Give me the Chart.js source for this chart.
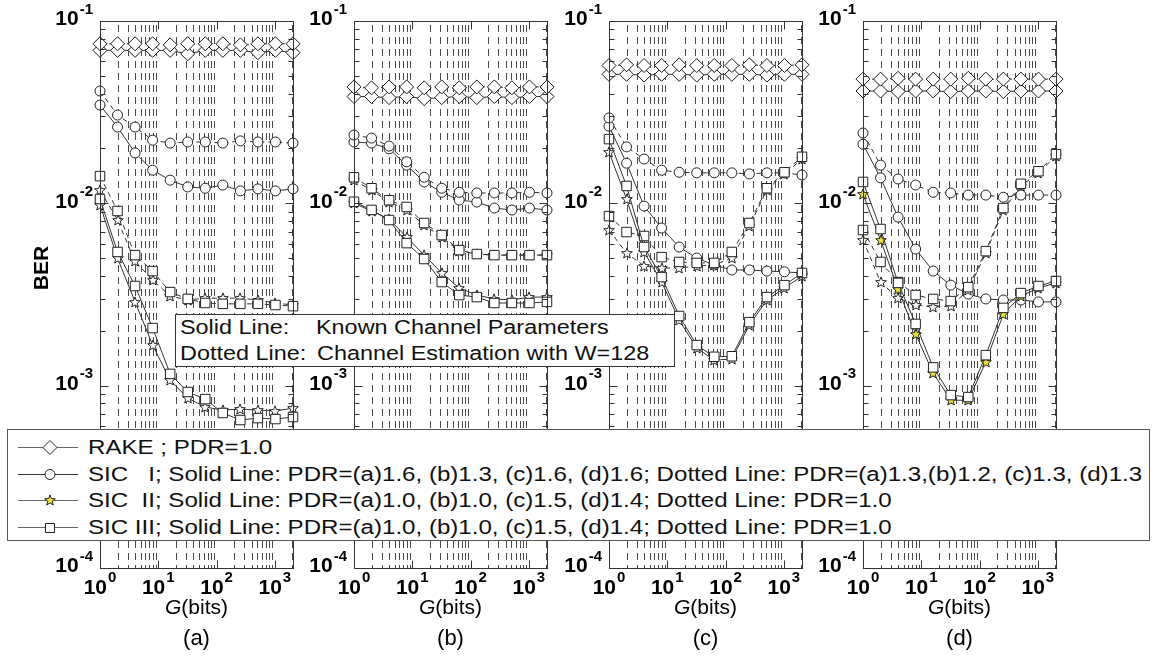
<!DOCTYPE html>
<html>
<head>
<meta charset="utf-8">
<title>BER versus G</title>
<script src="https://cdn.jsdelivr.net/npm/chart.js@4/dist/chart.umd.min.js"></script>
<style>
  html, body { margin: 0; padding: 0; background: #fff; }
  #page { position: relative; width: 1157px; height: 662px; overflow: hidden; background: #fff;
          font-family: "Liberation Sans", Arial, sans-serif; color: #111; }
  canvas.panel { position: absolute; left: 0; top: 0; }
  #note { position: absolute; left: 175px; top: 314px; width: 498px; height: 51px;
          border: 1px solid #333; background: #fff; font-size: 20px; }
  #note span { position: absolute; line-height: 24px; white-space: pre;
               transform: scaleX(1.17); transform-origin: 0 50%; }
  #legend { position: absolute; left: 7px; top: 429px; width: 1141px; height: 110px;
            border: 1px solid #555; background: #fff; font-size: 20px; }
  #legend .row { position: absolute; left: 0; height: 26px; width: 100%; }
  #legend .row canvas { position: absolute; left: 7px; top: 3px; }
  #legend .row span { position: absolute; left: 80px; top: 0; line-height: 26px; white-space: pre;
                      transform: scaleX(1.205); transform-origin: 0 50%; }
</style>
</head>
<body>
<div id="page">
  <canvas class="panel" id="pa" width="1157" height="662"></canvas>
  <canvas class="panel" id="pb" width="1157" height="662"></canvas>
  <canvas class="panel" id="pc" width="1157" height="662"></canvas>
  <canvas class="panel" id="pd" width="1157" height="662"></canvas>
  <div id="note">
    <span style="left:4px; top:0px;">Solid Line:</span><span style="left:140px; top:0px;">Known Channel Parameters</span>
    <span style="left:4px; top:26px;">Dotted Line:</span><span style="left:141px; top:26px;">Channel Estimation with W=128</span>
  </div>
  <div id="legend"></div>
</div>
<script>
// Message-group length G (bits) on the x axis
const G_BITS = [1, 2, 4, 8, 16, 32, 64, 128, 256, 512, 1024, 2048];
const X_DECADES = [0, 1, 2, 3];
const Y_DECADES = [-1, -2, -3, -4];
const PANEL_TAGS = ['(a)', '(b)', '(c)', '(d)'];

// ---- panel (a) ----
const rakeSolidA  = [0.069, 0.069, 0.069, 0.069, 0.069, 0.066, 0.069, 0.069, 0.069, 0.067, 0.069, 0.067];
const rakeDottedA = [0.075, 0.075, 0.075, 0.075, 0.074, 0.075, 0.075, 0.075, 0.074, 0.075, 0.075, 0.075];
const sic1SolidA  = [0.0346, 0.0262, 0.0189, 0.0152, 0.0134, 0.0123, 0.0121, 0.0126, 0.0117, 0.0120, 0.0117, 0.0120];
const sic1DottedA = [0.0413, 0.0305, 0.0262, 0.0222, 0.0214, 0.0217, 0.0217, 0.0214, 0.0220, 0.0217, 0.0217, 0.0214];
const sic2SolidA  = [0.0098, 0.0050, 0.00288, 0.00167, 0.00107, 0.000855, 0.000763, 0.000735, 0.000744, 0.000735, 0.000726, 0.000753];
const sic2DottedA = [0.0118, 0.0081, 0.0048, 0.0038, 0.0031, 0.00295, 0.00302, 0.00302, 0.00302, 0.00295, 0.00284, 0.00277];
const sic3SolidA  = [0.01056, 0.00541, 0.00352, 0.00207, 0.00116, 0.000923, 0.000844, 0.000708, 0.000648, 0.000664, 0.000656, 0.000673];
const sic3DottedA = [0.0141, 0.00908, 0.0052, 0.00425, 0.00326, 0.00299, 0.00284, 0.00281, 0.00281, 0.00281, 0.00277, 0.00273];

// ---- panel (b) ----
const rakeSolidB  = [0.0385, 0.0385, 0.038, 0.0385, 0.0375, 0.038, 0.0385, 0.038, 0.0385, 0.038, 0.0385, 0.0385];
const rakeDottedB = [0.0435, 0.043, 0.0435, 0.0435, 0.043, 0.0435, 0.043, 0.0435, 0.0435, 0.043, 0.0435, 0.0435];
const sic1SolidB  = [0.0217, 0.0214, 0.0199, 0.0162, 0.0131, 0.0115, 0.01042, 0.01016, 0.00942, 0.00919, 0.00942, 0.00919];
const sic1DottedB = [0.0237, 0.0228, 0.0206, 0.0169, 0.0139, 0.0121, 0.0115, 0.0114, 0.0114, 0.0114, 0.0115, 0.0114];
const sic2SolidB  = [0.0100, 0.00908, 0.0082, 0.00653, 0.0052, 0.00415, 0.00343, 0.00314, 0.00299, 0.00295, 0.00306, 0.00306];
const sic2DottedB = [0.0134, 0.0118, 0.0102, 0.0092, 0.0076, 0.00653, 0.00547, 0.00527, 0.0052, 0.0052, 0.0052, 0.0052];
const sic3SolidB  = [0.0102, 0.0092, 0.0081, 0.00605, 0.00495, 0.0037, 0.00314, 0.00306, 0.00284, 0.00284, 0.00284, 0.00288];
const sic3DottedB = [0.0139, 0.0121, 0.0104, 0.00955, 0.0078, 0.0067, 0.00554, 0.00527, 0.0052, 0.0052, 0.0052, 0.0052];

// ---- panel (c) ----
const rakeSolidC  = [0.051, 0.051, 0.0505, 0.051, 0.051, 0.0505, 0.051, 0.051, 0.051, 0.0505, 0.051, 0.051];
const rakeDottedC = [0.057, 0.0575, 0.057, 0.057, 0.0575, 0.057, 0.057, 0.057, 0.0575, 0.057, 0.057, 0.0575];
const sic1SolidC  = [0.0265, 0.0166, 0.00966, 0.00732, 0.00576, 0.00501, 0.00459, 0.00431, 0.00431, 0.00425, 0.00421, 0.00415];
const sic1DottedC = [0.0294, 0.0204, 0.0175, 0.0152, 0.0148, 0.0147, 0.0147, 0.0147, 0.0145, 0.0147, 0.0147, 0.0143];
const sic2SolidC  = [0.0191, 0.01056, 0.00541, 0.0037, 0.00229, 0.00161, 0.00138, 0.0014, 0.00215, 0.00295, 0.00343, 0.00399];
const sic2DottedC = [0.00714, 0.00533, 0.00453, 0.00442, 0.00442, 0.00453, 0.00459, 0.00501, 0.0075, 0.01183, 0.0145, 0.0175];
const sic3SolidC  = [0.0225, 0.01245, 0.00576, 0.00394, 0.00241, 0.00167, 0.00144, 0.00145, 0.00223, 0.00306, 0.00356, 0.00415];
const sic3DottedC = [0.00851, 0.00696, 0.00662, 0.00507, 0.00477, 0.00471, 0.00471, 0.00541, 0.0078, 0.0121, 0.0148, 0.018];

// ---- panel (d) ----
const rakeSolidD  = [0.0413, 0.0413, 0.041, 0.0413, 0.0413, 0.041, 0.0413, 0.0413, 0.041, 0.0413, 0.0413, 0.0413];
const rakeDottedD = [0.048, 0.048, 0.0485, 0.048, 0.048, 0.048, 0.0485, 0.048, 0.048, 0.048, 0.048, 0.048];
const sic1SolidD  = [0.0211, 0.0138, 0.0084, 0.00561, 0.00425, 0.00356, 0.00318, 0.00299, 0.00295, 0.00295, 0.00288, 0.00288];
const sic1DottedD = [0.0243, 0.0162, 0.0136, 0.0126, 0.0115, 0.0114, 0.0111, 0.0111, 0.0108, 0.0111, 0.0111, 0.0111];
const sic2SolidD  = [0.0112, 0.0063, 0.00339, 0.00192, 0.00117, 0.000834, 0.00083, 0.00135, 0.00247, 0.0031, 0.00343, 0.00366];
const sic2DottedD = [0.0063, 0.0037, 0.00302, 0.00277, 0.0027, 0.00273, 0.00334, 0.00533, 0.00919, 0.01245, 0.0147, 0.0182];
const sic3SolidD  = [0.0131, 0.00723, 0.00366, 0.00218, 0.00126, 0.000888, 0.000866, 0.00147, 0.00267, 0.00322, 0.00352, 0.00375];
const sic3DottedD = [0.00714, 0.00477, 0.0037, 0.00314, 0.00299, 0.00291, 0.00347, 0.00547, 0.00942, 0.0128, 0.015, 0.0186];

const LEGEND_TEXT = [
  'RAKE ; PDR=1.0',
  'SIC   I; Solid Line: PDR=(a)1.6, (b)1.3, (c)1.6, (d)1.6; Dotted Line: PDR=(a)1.3,(b)1.2, (c)1.3, (d)1.3',
  'SIC  II; Solid Line: PDR=(a)1.0, (b)1.0, (c)1.5, (d)1.4; Dotted Line: PDR=1.0',
  'SIC III; Solid Line: PDR=(a)1.0, (b)1.0, (c)1.5, (d)1.4; Dotted Line: PDR=1.0'
];

// ---- layout ----
const W = 1157, H = 662;
const PLOT_LEFT = [100, 354, 609, 863];
const PLOT_W = 193;
const PLOT_TOP = 21, PLOT_BOTTOM = 568;
const FONT = '"Liberation Sans", Arial, sans-serif';
const LINE_COLOR = '#333';
const MARK_EDGE = '#222';
const STAR_YELLOW = '#ece23a';

// five-point star glyph used as an image point style
function makeStar(fill) {
  const c = document.createElement('canvas');
  const S = 14;
  c.width = S; c.height = S;
  const g = c.getContext('2d');
  g.translate(S / 2, S / 2 + 0.5);
  g.lineWidth = 1;
  g.strokeStyle = MARK_EDGE;
  g.fillStyle = fill;
  g.beginPath();
  for (let i = 0; i < 10; i++) {
    const r = i % 2 ? 2.4 : 5.6;
    const a = -Math.PI / 2 + i * Math.PI / 5;
    g.lineTo(r * Math.cos(a), r * Math.sin(a));
  }
  g.closePath();
  g.fill();
  g.stroke();
  return c;
}
const STAR_WHITE = makeStar('#fff');
const STAR_FILLED = makeStar(STAR_YELLOW);

// marker shape -> Chart.js point settings
const MARKERS = {
  diamond: { pointStyle: 'rectRot', pointRadius: 7, edge: '#1a1a1a', width: 1 },
  circle:  { pointStyle: 'circle',  pointRadius: 5, edge: MARK_EDGE, width: 1 },
  square:  { pointStyle: 'rect',    pointRadius: 6.7, edge: MARK_EDGE, width: 1 },
  star:    { pointStyle: STAR_WHITE, pointRadius: 5, edge: MARK_EDGE, width: 1 },
  starY:   { pointStyle: STAR_FILLED, pointRadius: 5, edge: MARK_EDGE, width: 1 }
};

function series(values, dashed, marker, order) {
  const m = MARKERS[marker];
  return {
    data: G_BITS.map((g, i) => ({ x: g, y: values[i] })),
    showLine: true,
    borderColor: LINE_COLOR,
    borderWidth: 1,
    borderDash: dashed ? [5, 4] : [],
    pointStyle: m.pointStyle,
    pointRadius: m.pointRadius,
    pointHoverRadius: m.pointRadius,
    pointBackgroundColor: '#fff',
    pointBorderColor: m.edge,
    pointBorderWidth: m.width,
    tension: 0,
    fill: false,
    clip: false,
    order: order
  };
}

function drawPow(ctx, exp, cx, cy, align, baseSize, expSize, weight) {
  const base = '10', e = String(exp);
  const bf = weight + ' ' + baseSize + 'px ' + FONT;
  const ef = weight + ' ' + expSize + 'px ' + FONT;
  ctx.font = bf;
  const bw = ctx.measureText(base).width;
  ctx.font = ef;
  const ew = ctx.measureText(e).width;
  const total = bw + 1 + ew;
  const x0 = align === 'right' ? cx - total : cx - total / 2;
  ctx.textAlign = 'left';
  ctx.textBaseline = 'middle';
  ctx.font = bf;
  ctx.fillText(base, x0, cy);
  ctx.font = ef;
  ctx.fillText(e, x0 + bw + 1, cy - 10);
}

// frame, log ticks, dashed minor grid and axis texts for one panel
const logFrame = {
  id: 'logFrame',
  beforeDatasetsDraw(chart) {
    const { ctx, chartArea: a, scales: { x } } = chart;
    ctx.save();
    ctx.strokeStyle = '#4a4a4a';
    ctx.lineWidth = 1;
    ctx.setLineDash([7, 5]);
    for (const k of X_DECADES) {
      for (let m = 2; m <= 9; m++) {
        const v = m * Math.pow(10, k);
        if (v > x.max) continue;
        const px = Math.round(x.getPixelForValue(v)) + 0.5;
        ctx.beginPath();
        ctx.moveTo(px, a.top + 4);
        ctx.lineTo(px, a.bottom);
        ctx.stroke();
      }
    }
    ctx.restore();
    ctx.imageSmoothingEnabled = false;
  },
  afterDatasetsDraw(chart) {
    const { ctx, chartArea: a, scales: { x, y } } = chart;
    ctx.imageSmoothingEnabled = true;
    const L = Math.round(a.left) + 0.5, R = Math.round(a.right) + 0.5;
    const T = Math.round(a.top) + 0.5, B = Math.round(a.bottom) + 0.5;
    ctx.save();
    ctx.strokeStyle = '#333';
    ctx.lineWidth = 1;
    ctx.strokeRect(L, T, R - L, B - T);
    ctx.beginPath();
    for (let k = -4; k <= -2; k++) {
      for (let m = 1; m <= 9; m++) {
        if (m === 1 && k === -4) continue;
        const py = Math.round(y.getPixelForValue(m * Math.pow(10, k))) + 0.5;
        const len = m === 1 ? 8 : 5;
        ctx.moveTo(L, py); ctx.lineTo(L + len, py);
        ctx.moveTo(R, py); ctx.lineTo(R - len, py);
      }
    }
    for (const k of X_DECADES.slice(1)) {
      const px = Math.round(x.getPixelForValue(Math.pow(10, k))) + 0.5;
      ctx.moveTo(px, B); ctx.lineTo(px, B - 8);
      ctx.moveTo(px, T); ctx.lineTo(px, T + 8);
    }
    ctx.stroke();
    ctx.restore();
  },
  afterDraw(chart, args, opts) {
    const { ctx, chartArea: a, scales: { x, y } } = chart;
    ctx.save();
    ctx.fillStyle = '#000';
    for (const k of Y_DECADES) {
      const py = y.getPixelForValue(Math.pow(10, k));
      drawPow(ctx, k, a.left - 7, py - 1.5, 'right', 21, 15, 'bold');
    }
    for (const k of X_DECADES) {
      const px = x.getPixelForValue(Math.pow(10, k));
      drawPow(ctx, k, px, 588, 'center', 21, 15, 'bold');
    }
    const cx = (a.left + a.right) / 2;
    ctx.textBaseline = 'middle';
    ctx.font = 'italic 21px ' + FONT;
    const gw = ctx.measureText('G').width;
    ctx.font = '21px ' + FONT;
    const bw = ctx.measureText('(bits)').width;
    const gx = cx - (gw + bw) / 2;
    ctx.textAlign = 'left';
    ctx.font = 'italic 21px ' + FONT;
    ctx.fillText('G', gx, 608);
    ctx.font = '21px ' + FONT;
    ctx.fillText('(bits)', gx + gw, 608);
    ctx.textAlign = 'center';
    ctx.font = '22px ' + FONT;
    ctx.fillText(opts.tag, cx, 639);
    if (opts.yTitle) {
      ctx.translate(42, 268);
      ctx.rotate(-Math.PI / 2);
      ctx.font = 'bold 21px ' + FONT;
      ctx.fillText(opts.yTitle, 0, 0);
    }
    ctx.restore();
  }
};

const PANELS = [
  { id: 'pa', rake: [rakeSolidA, rakeDottedA], sic1: [sic1SolidA, sic1DottedA], sic2: [sic2SolidA, sic2DottedA], sic3: [sic3SolidA, sic3DottedA], star: 'star' },
  { id: 'pb', rake: [rakeSolidB, rakeDottedB], sic1: [sic1SolidB, sic1DottedB], sic2: [sic2SolidB, sic2DottedB], sic3: [sic3SolidB, sic3DottedB], star: 'star' },
  { id: 'pc', rake: [rakeSolidC, rakeDottedC], sic1: [sic1SolidC, sic1DottedC], sic2: [sic2SolidC, sic2DottedC], sic3: [sic3SolidC, sic3DottedC], star: 'star' },
  { id: 'pd', rake: [rakeSolidD, rakeDottedD], sic1: [sic1SolidD, sic1DottedD], sic2: [sic2SolidD, sic2DottedD], sic3: [sic3SolidD, sic3DottedD], star: 'starY' }
];

PANELS.forEach((p, i) => {
  const left = PLOT_LEFT[i];
  const datasets = [
    series(p.rake[0], false, 'diamond', 8),
    series(p.rake[1], true, 'diamond', 7),
    series(p.sic1[0], false, 'circle', 6),
    series(p.sic1[1], true, 'circle', 5),
    series(p.sic2[1], true, 'star', 4),
    series(p.sic2[0], false, p.star, 3),
    series(p.sic3[1], true, 'square', 2),
    series(p.sic3[0], false, 'square', 1)
  ];
  new Chart(document.getElementById(p.id), {
    type: 'scatter',
    data: { datasets },
    options: {
      responsive: false,
      animation: false,
      events: [],
      layout: { padding: { left: left, right: W - left - PLOT_W, top: PLOT_TOP, bottom: H - PLOT_BOTTOM } },
      plugins: {
        legend: { display: false },
        tooltip: { enabled: false },
        logFrame: { tag: PANEL_TAGS[i], yTitle: i === 0 ? 'BER' : '' }
      },
      scales: {
        x: { type: 'logarithmic', min: 1, max: 2048, display: false },
        y: { type: 'logarithmic', min: 1e-4, max: 1e-1, display: false }
      }
    },
    plugins: [logFrame]
  });
});

// legend rows: line sample with its marker, then the text
const legend = document.getElementById('legend');
const ROW_CENTERS = [17, 43.7, 70.3, 97];
function drawSampleMarker(g, kind, cx, cy) {
  g.lineWidth = 1;
  g.strokeStyle = MARK_EDGE;
  g.fillStyle = '#fff';
  g.beginPath();
  if (kind === 0) {
    g.moveTo(cx, cy - 7); g.lineTo(cx + 7, cy); g.lineTo(cx, cy + 7); g.lineTo(cx - 7, cy); g.closePath();
    g.fill(); g.stroke();
  } else if (kind === 1) {
    g.arc(cx, cy, 5, 0, Math.PI * 2);
    g.fill(); g.stroke();
  } else if (kind === 2) {
    g.drawImage(STAR_FILLED, Math.round(cx - 7), Math.round(cy - 7.5));
  } else {
    g.rect(Math.round(cx) - 4.5, Math.round(cy) - 4.5, 9, 9);
    g.fill(); g.stroke();
  }
}
LEGEND_TEXT.forEach((txt, i) => {
  const row = document.createElement('div');
  row.className = 'row';
  row.style.top = (ROW_CENTERS[i] - 13) + 'px';
  const c = document.createElement('canvas');
  c.width = 66; c.height = 20;
  const g = c.getContext('2d');
  g.strokeStyle = i === 1 ? '#333' : '#666';
  g.lineWidth = 1;
  g.beginPath(); g.moveTo(3, 10.5); g.lineTo(63, 10.5); g.stroke();
  drawSampleMarker(g, i, 35, 10.5);
  const s = document.createElement('span');
  s.textContent = txt;
  row.appendChild(c);
  row.appendChild(s);
  legend.appendChild(row);
});
</script>
</body>
</html>
